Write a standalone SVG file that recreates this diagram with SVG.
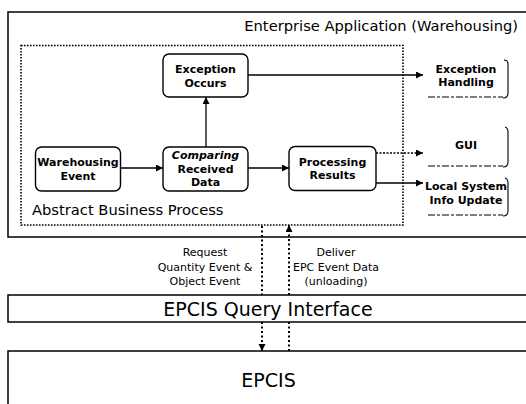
<svg xmlns="http://www.w3.org/2000/svg" width="526" height="404" viewBox="0 0 526 404">
  <defs>
    <marker id="arrow" markerUnits="userSpaceOnUse" markerWidth="8" markerHeight="8" refX="7" refY="3.5" orient="auto">
      <path d="M0,0 L7,3.5 L0,7 z" fill="#000"/>
    </marker>
    <style>
      .frame { fill: #fff; stroke: #000; stroke-width: 1.5; }
      .dotted { fill: none; stroke: #000; stroke-width: 1.6; stroke-dasharray: 1.6 1.4; }
      .box { fill: #fff; stroke: #000; stroke-width: 1.4; }
      .side { fill: none; stroke: #000; stroke-width: 1.1; }
      .side-bottom { fill: none; stroke: #000; stroke-width: 1.1; stroke-dasharray: 7 2 3 2; }
      .edge { fill: none; stroke: #000; stroke-width: 1.3; }
      .edge-dash { fill: none; stroke: #000; stroke-width: 1.3; stroke-dasharray: 2 1.5; }
      .flow { fill: none; stroke: #000; stroke-width: 2; stroke-dasharray: 2 2.5; }
      .node { font-family: "DejaVu Sans", Verdana, sans-serif; font-size: 11px; font-weight: bold; fill: #000; text-anchor: middle; }
      .title { font-family: "DejaVu Sans", Verdana, sans-serif; font-size: 14.7px; fill: #000; }
      .layer { font-family: "DejaVu Sans", Verdana, sans-serif; font-size: 19px; fill: #000; text-anchor: middle; }
      .label { font-family: "DejaVu Sans", Tahoma, sans-serif; font-size: 11px; fill: #000; text-anchor: middle; }
    </style>
  </defs>

  <!-- application frame -->
  <g id="enterprise-application">
    <rect class="frame" x="8" y="12" width="530" height="225"/>
    <text class="title" x="518" y="31" text-anchor="end">Enterprise Application (Warehousing)</text>
  </g>

  <!-- process boundary -->
  <g id="abstract-business-process">
    <rect class="dotted" x="21" y="45.5" width="382" height="179.5"/>
    <text class="title" x="32" y="215">Abstract Business Process</text>
  </g>

  <!-- query layer -->
  <g id="epcis-query-interface">
    <rect class="frame" x="8" y="295" width="530" height="27"/>
    <text class="layer" x="268" y="316">EPCIS Query Interface</text>
  </g>

  <!-- repository layer -->
  <g id="epcis">
    <rect class="frame" x="8" y="351" width="530" height="70"/>
    <text class="layer" x="268.5" y="387">EPCIS</text>
  </g>

  <!-- process steps -->
  <g id="warehousing-event">
    <rect class="box" x="35.5" y="147" width="85" height="44" rx="6"/>
    <text class="node" x="78" y="166">Warehousing</text>
    <text class="node" x="78" y="179.5">Event</text>
  </g>

  <g id="comparing-received-data">
    <rect class="box" x="163" y="147" width="85" height="44" rx="6"/>
    <text class="node" x="205.5" y="159" font-style="italic">Comparing</text>
    <text class="node" x="205.5" y="172.5">Received</text>
    <text class="node" x="205.5" y="186">Data</text>
  </g>

  <g id="exception-occurs">
    <rect class="box" x="163" y="54" width="85" height="43" rx="6"/>
    <text class="node" x="205.5" y="73">Exception</text>
    <text class="node" x="205.5" y="87">Occurs</text>
  </g>

  <g id="processing-results">
    <rect class="box" x="289" y="146.5" width="87" height="44" rx="6"/>
    <text class="node" x="332.5" y="166">Processing</text>
    <text class="node" x="332.5" y="179">Results</text>
  </g>

  <!-- external handlers -->
  <g id="exception-handling">
    <path class="side" d="M504 60 Q508 60 508 64 V93 Q508 98 503 98"/>
    <path class="side-bottom" d="M428 97 H503"/>
    <text class="node" x="466" y="73">Exception</text>
    <text class="node" x="466" y="86">Handling</text>
  </g>

  <g id="gui">
    <path class="side" d="M505 127 Q508 128 508 132 V162 Q508 167 503 167"/>
    <path class="side-bottom" d="M428 166 H503"/>
    <text class="node" x="466" y="149">GUI</text>
  </g>

  <g id="local-system-info-update">
    <path class="side" d="M505 178 Q508 179 508 183 V211 Q508 216 503 216"/>
    <path class="side-bottom" d="M428 215 H503"/>
    <text class="node" x="466" y="190">Local System</text>
    <text class="node" x="466" y="204">Info Update</text>
  </g>

  <!-- connectors -->
  <g id="connectors">
    <path class="edge" d="M120.5 168 H163" marker-end="url(#arrow)"/>
    <path class="edge" d="M206 147 V97" marker-end="url(#arrow)"/>
    <path class="edge" d="M248 168 H289" marker-end="url(#arrow)"/>
    <path class="edge" d="M248 75 H423" marker-end="url(#arrow)"/>
    <path class="edge-dash" d="M376 153 H423" marker-end="url(#arrow)"/>
    <path class="edge" d="M376 183 H423" marker-end="url(#arrow)"/>

    <path class="flow" d="M262 226 V295"/>
    <path class="flow" d="M262 322 V351" marker-end="url(#arrow)"/>
    <path class="flow" d="M289 351 V322"/>
    <path class="flow" d="M289 295 V225" marker-end="url(#arrow)"/>

    <text class="label" x="205" y="256">Request</text>
    <text class="label" x="205" y="271">Quantity Event &amp;</text>
    <text class="label" x="205" y="285">Object Event</text>
    <text class="label" x="336" y="256">Deliver</text>
    <text class="label" x="336" y="271">EPC Event Data</text>
    <text class="label" x="336" y="285">(unloading)</text>
  </g>
</svg>
